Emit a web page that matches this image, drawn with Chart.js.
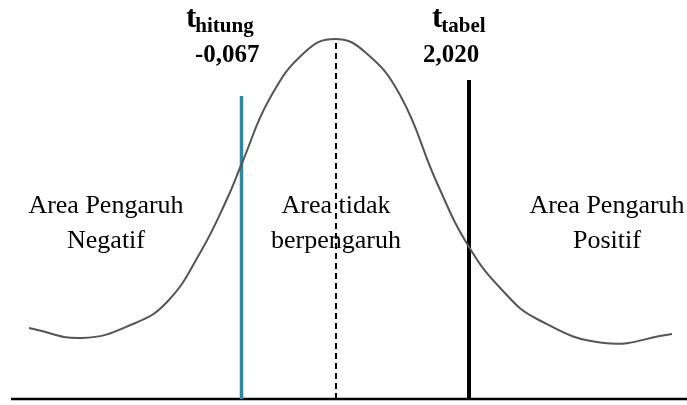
<!DOCTYPE html>
<html lang="id">
<head>
  <meta charset="UTF-8">
  <title>Uji t</title>
  <script src="https://cdn.jsdelivr.net/npm/chart.js"></script>
  <style>
    body {
      margin: 0;
      background: #fff;
    }
    #wrap {
      width: 687px;
      height: 405px;
    }
  </style>
</head>
<body>

<div id="wrap">
  <canvas id="chart" width="687" height="405"></canvas>
</div>

<script>
  // curve: x across, height above the bottom edge
  const curveX = [29, 82, 133, 167, 200, 227, 242, 270, 305, 335, 365, 400, 437, 469, 503, 537, 604, 672];
  const curveY = [77, 67, 81, 103, 152, 206, 242, 307, 353, 366, 353, 310, 222, 158, 114, 86, 62, 71];

  const axisX = [11, 687];
  const axisY = [6, 6];

  // critical values: x position, top height
  const tHitungX = 241.5;
  const tHitungTop = 309;
  const tTabelX = 469;
  const tTabelTop = 325;
  const meanX = 336;
  const meanTop = 366;

  const tHitungLabel = '-0,067';
  const tTabelLabel = '2,020';
  const areaLabels = [
    ['Area Pengaruh', 'Negatif'],
    ['Area tidak', 'berpengaruh'],
    ['Area Pengaruh', 'Positif']
  ];

  function pts(xs, ys) {
    return xs.map((x, i) => ({ x: x, y: ys[i] }));
  }

  const textPlugin = {
    id: 'texts',
    afterDatasetsDraw(chart) {
      const ctx = chart.ctx;
      ctx.save();
      ctx.fillStyle = '#000';
      ctx.textBaseline = 'alphabetic';

      // area captions
      ctx.font = '26px "Liberation Serif", serif';
      ctx.textAlign = 'center';
      const centers = [106, 336, 607];
      areaLabels.forEach((lines, i) => {
        ctx.fillText(lines[0], centers[i], 213);
        ctx.fillText(lines[1], centers[i], 248);
      });

      // t labels with subscript
      function tLabel(x, sub) {
        ctx.textAlign = 'left';
        ctx.font = 'bold 31px "Liberation Serif", serif';
        ctx.fillText('t', x, 27);
        const w = ctx.measureText('t').width;
        ctx.font = 'bold 21px "Liberation Serif", serif';
        ctx.fillText(sub, x + w - 1, 32);
      }
      tLabel(186, 'hitung');
      tLabel(432, 'tabel');

      ctx.font = 'bold 25px "Liberation Serif", serif';
      ctx.textAlign = 'left';
      ctx.fillText(tHitungLabel, 195, 62);
      ctx.fillText(tTabelLabel, 423, 62);
      ctx.restore();
    }
  };

  new Chart(document.getElementById('chart'), {
    type: 'scatter',
    data: {
      datasets: [
        {
          data: pts(curveX, curveY),
          showLine: true,
          borderColor: '#555555',
          borderWidth: 2,
          pointRadius: 0,
          tension: 0.45
        },
        {
          data: pts([meanX, meanX], [6, meanTop]),
          showLine: true,
          borderColor: '#000',
          borderWidth: 2,
          borderDash: [6, 4],
          pointRadius: 0
        },
        {
          data: pts([tHitungX, tHitungX], [6, tHitungTop]),
          showLine: true,
          borderColor: '#2e8aa0',
          borderWidth: 3.5,
          pointRadius: 0
        },
        {
          data: pts([tTabelX, tTabelX], [6, tTabelTop]),
          showLine: true,
          borderColor: '#000',
          borderWidth: 4,
          pointRadius: 0
        },
        {
          data: pts(axisX, axisY),
          showLine: true,
          borderColor: '#000',
          borderWidth: 2.5,
          pointRadius: 0
        }
      ]
    },
    options: {
      responsive: false,
      animation: false,
      layout: { padding: 0 },
      plugins: {
        legend: { display: false },
        tooltip: { enabled: false }
      },
      scales: {
        x: { type: 'linear', min: 0, max: 687, display: false },
        y: { type: 'linear', min: 0, max: 405, display: false }
      }
    },
    plugins: [textPlugin]
  });
</script>

</body>
</html>
